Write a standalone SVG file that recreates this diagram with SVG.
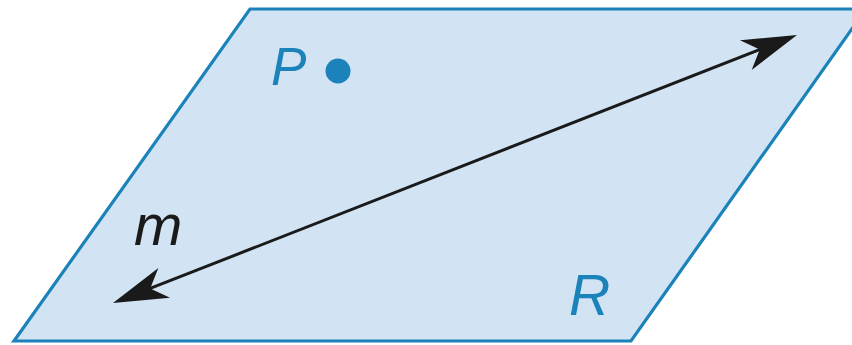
<svg xmlns="http://www.w3.org/2000/svg" width="852" height="345" viewBox="0 0 852 345">
<defs>
<style>
.plane{fill:#d2e4f4;stroke:#1b82ba;stroke-width:3.2;stroke-linejoin:miter}
.lbl{font-family:"Liberation Sans",Arial,sans-serif;font-style:italic}
.blue{fill:#1b82ba}
.dark{fill:#1a1a1a}
.line{stroke:#1a1a1a;stroke-width:3;fill:none}
</style>
<marker id="arr" viewBox="-38 -18 60 36" markerWidth="60" markerHeight="36" refX="0" refY="0" orient="auto-start-reverse" markerUnits="userSpaceOnUse">
<path d="M20,0 L-35,-16 L-20,0 L-35,16 Z" fill="#1a1a1a"/>
</marker>
</defs>
<rect width="852" height="345" fill="#ffffff"/>
<g id="plane-R">
<polygon class="plane" points="250,9 866,9 631,341 14,341"/>
<text class="lbl blue" x="569" y="315" font-size="57">R</text>
</g>
<g id="point-P">
<text class="lbl blue" x="271" y="85" font-size="53">P</text>
<circle class="blue" cx="338" cy="71" r="12.5"/>
</g>
<g id="label-m">
<text class="lbl dark" x="134" y="245" font-size="58">m</text>
</g>
<g id="connectors">
<line class="line" x1="131.6" y1="295.7" x2="778.4" y2="42.3" marker-start="url(#arr)" marker-end="url(#arr)"/>
</g>
</svg>
